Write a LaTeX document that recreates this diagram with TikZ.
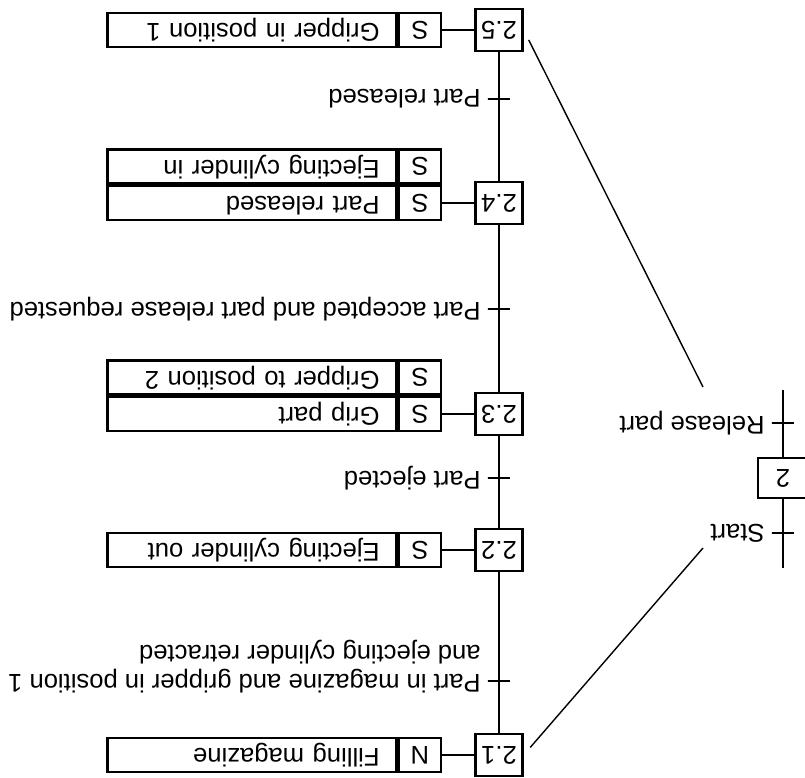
\documentclass[tikz,border=0pt]{standalone}
\usepackage{fontspec}
\setmainfont{Liberation Sans}

\tikzset{
    schritt/.style={draw, line width=1.2pt, minimum width=23.5pt, minimum height=21pt, inner sep=0pt},
    makro/.style={draw, line width=1.2pt, minimum width=25pt, minimum height=20pt, inner sep=0pt},
    qual/.style={draw, line width=1.2pt, minimum width=21pt, minimum height=17pt, inner sep=0pt},
    aktion/.style={draw, line width=1.2pt, text width=127.5pt, inner xsep=8.5pt, inner ysep=0pt,
        minimum height=17pt, align=left, text height=9pt, text depth=2.6pt},
    strich/.style={draw, line width=1pt, minimum width=11pt, minimum height=0pt, inner sep=0pt},
    bez/.style={inner xsep=3pt, inner ysep=0pt, align=left},
    every node/.style={font=\fontsize{12.8}{14.5}\selectfont}
}

\begin{document}
\begin{tikzpicture}[x=0.5pt, y=0.5pt]
\begin{scope}[rotate=180, transform shape]
    \useasboundingbox (0,0) rectangle (805,-778);
    % Schritte und Transitionen
    \path node[schritt] (S21) at (306,-23) {2.1}
        node[schritt] (S22) at (306,-228) {2.2}
        node[schritt] (S23) at (306,-364) {2.3}
        node[schritt] (S24) at (306,-575) {2.4}
        node[schritt] (S25) at (306,-748) {2.5}
        node[strich] (T1) at (306,-97) {}
        node[strich] (T2) at (306,-300) {}
        node[strich] (T3) at (306,-469) {}
        node[strich] (T4) at (306,-679) {};
    \draw[line width=1pt] (S21) -- (S22) -- (S23) -- (S24) -- (S25);
    \path node[bez, anchor=west, yshift=-7.25pt] (L1) at (T1.east)
            {Part in magazine and gripper in position 1\\and ejecting cylinder retracted}
        node[bez, anchor=west] (L2) at (T2.east) {Part ejected}
        node[bez, anchor=west] (L3) at (T3.east) {Part accepted and part release requested}
        node[bez, anchor=west] (L4) at (T4.east) {Part released};
    % Aktionen
    \path node[qual] (Q21) at (385,-23) {N}
        node[aktion, anchor=west] (A21) at (Q21.east) {Filling magazine}
        node[qual] (Q22) at (385,-228) {S}
        node[aktion, anchor=west] (A22) at (Q22.east) {Ejecting cylinder out}
        node[qual] (Q23) at (385,-364) {S}
        node[aktion, anchor=west] (A23) at (Q23.east) {Grip part}
        node[qual, anchor=north] (Q23b) at (Q23.south) {S}
        node[aktion, anchor=west] (A23b) at (Q23b.east) {Gripper to position 2}
        node[qual] (Q24) at (385,-575) {S}
        node[aktion, anchor=west] (A24) at (Q24.east) {Part released}
        node[qual, anchor=north] (Q24b) at (Q24.south) {S}
        node[aktion, anchor=west] (A24b) at (Q24b.east) {Ejecting cylinder in}
        node[qual] (Q25) at (385,-748) {S}
        node[aktion, anchor=west] (A25) at (Q25.east) {Gripper in position 1};
    \draw[line width=1pt] (S21) -- (Q21);
    \draw[line width=1pt] (S22) -- (Q22);
    \draw[line width=1pt] (S23) -- (Q23);
    \draw[line width=1pt] (S24) -- (Q24);
    \draw[line width=1pt] (S25) -- (Q25);
    % Makroschritt
    \coordinate (Mo) at (22,-210);
    \coordinate (Mu) at (22,-388);
    \path node[makro] (M2) at (22,-300) {2}
        node[strich] (TS) at (22,-245) {}
        node[strich] (TR) at (22,-355) {}
        node[bez, anchor=west] (LS) at (TS.east) {Start}
        node[bez, anchor=west] (LR) at (TR.east) {Release part};
    \draw[line width=1pt] (Mo) -- (M2) -- (Mu);
    \coordinate (Ea) at (102,-230);
    \coordinate (Eb) at (102,-391);
    \draw[line width=0.7pt, shorten >=5pt] (Ea) -- (S21.west);
    \draw[line width=0.7pt, shorten >=5.5pt] (Eb) -- (S25.west);
\end{scope}
\end{tikzpicture}
\end{document}
